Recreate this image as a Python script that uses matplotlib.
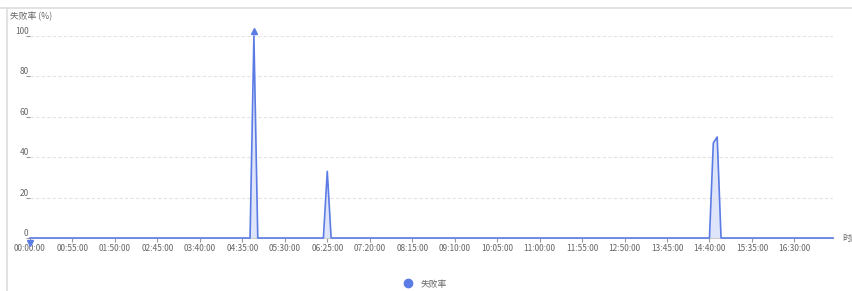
import numpy as np
import matplotlib
matplotlib.use('Agg')
import matplotlib.pyplot as plt
import matplotlib.transforms as mtransforms
from matplotlib.lines import Line2D

plt.rcParams['font.family'] = ['Noto Sans CJK SC', 'DejaVu Sans']

# time axis in minutes from 00:00, 5-minute samples up to 17:20
start_min = 0
end_min = 1040
step_min = 5

# non-zero failure rate samples (minute, %)
spike_minutes = [290, 385, 885, 890]
spike_values = [100, 33, 47, 50]

tick_labels = ['00:00:00', '00:55:00', '01:50:00', '02:45:00', '03:40:00', '04:35:00',
               '05:30:00', '06:25:00', '07:20:00', '08:15:00', '09:10:00', '10:05:00',
               '11:00:00', '11:55:00', '12:50:00', '13:45:00', '14:40:00', '15:35:00',
               '16:30:00']
y_ticks = [0, 20, 40, 60, 80, 100]

minutes = np.arange(start_min, end_min + step_min, step_min)
rate = np.zeros(len(minutes))
for m, v in zip(spike_minutes, spike_values):
    rate[minutes == m] = v

line_color = '#5b7ce5'
text_color = '#666666'

W, H = 852, 291
fig = plt.figure(figsize=(W / 100, H / 100), dpi=100)
ax = fig.add_axes([30 / W, 53 / H, 803 / W, 202 / H])

ax.fill_between(minutes, rate, 0, color=line_color, alpha=0.2, lw=0)
ax.plot(minutes, rate, color=line_color, lw=1.2, clip_on=False, zorder=3)

# max / min markers
imax = int(np.argmax(rate))
imin = int(np.argmin(rate))
up = mtransforms.offset_copy(ax.transData, fig=fig, x=0, y=5, units='dots')
down = mtransforms.offset_copy(ax.transData, fig=fig, x=0, y=-5, units='dots')
ax.plot(minutes[imax], rate[imax], marker='^', ms=4, color=line_color, transform=up, clip_on=False, zorder=4)
ax.plot(minutes[imin], rate[imin], marker='v', ms=4, color=line_color, transform=down, clip_on=False, zorder=4)

ax.set_xlim(start_min, end_min)
ax.set_ylim(0, 100)

tick_pos = np.arange(len(tick_labels)) * 55
ax.set_xticks(tick_pos)
ax.set_xticklabels(tick_labels)
ax.set_yticks(y_ticks)
ax.set_yticklabels([str(t) for t in y_ticks])
for lbl in ax.get_yticklabels():
    lbl.set_verticalalignment('bottom')

ax.tick_params(axis='x', length=3, width=0.8, color='#999999', labelsize=6, labelcolor=text_color, pad=1)
ax.tick_params(axis='y', length=3, width=0.8, color='#999999', labelsize=6, labelcolor=text_color, pad=-2)

ax.grid(axis='y', linestyle=(0, (3, 2)), color='#e3e3e3', lw=0.8)
for s in ['top', 'right', 'left']:
    ax.spines[s].set_visible(False)
ax.spines['bottom'].set_color('#cccccc')

fig.text(10 / W, 1 - 17 / H, '失败率 (%)', fontsize=6.3, color=text_color, va='center', ha='left')
fig.text(842 / W, 1 - 238 / H, '时间', fontsize=6.3, color=text_color, va='center', ha='left')

# panel border
fig.add_artist(Line2D([0, 1], [1 - 8 / H, 1 - 8 / H], transform=fig.transFigure, color='#dddddd', lw=1.2))
fig.add_artist(Line2D([7 / W, 7 / W], [0, 1 - 8 / H], transform=fig.transFigure, color='#dddddd', lw=1.2))

handle = Line2D([], [], marker='o', ms=6, color=line_color, lw=0)
fig.legend([handle], ['失败率'], loc='center', bbox_to_anchor=(425 / W, 1 - 284 / H),
           frameon=False, fontsize=6.3, labelcolor=text_color, handletextpad=0.9, handlelength=1)

fig.savefig('out.png', dpi=100)
